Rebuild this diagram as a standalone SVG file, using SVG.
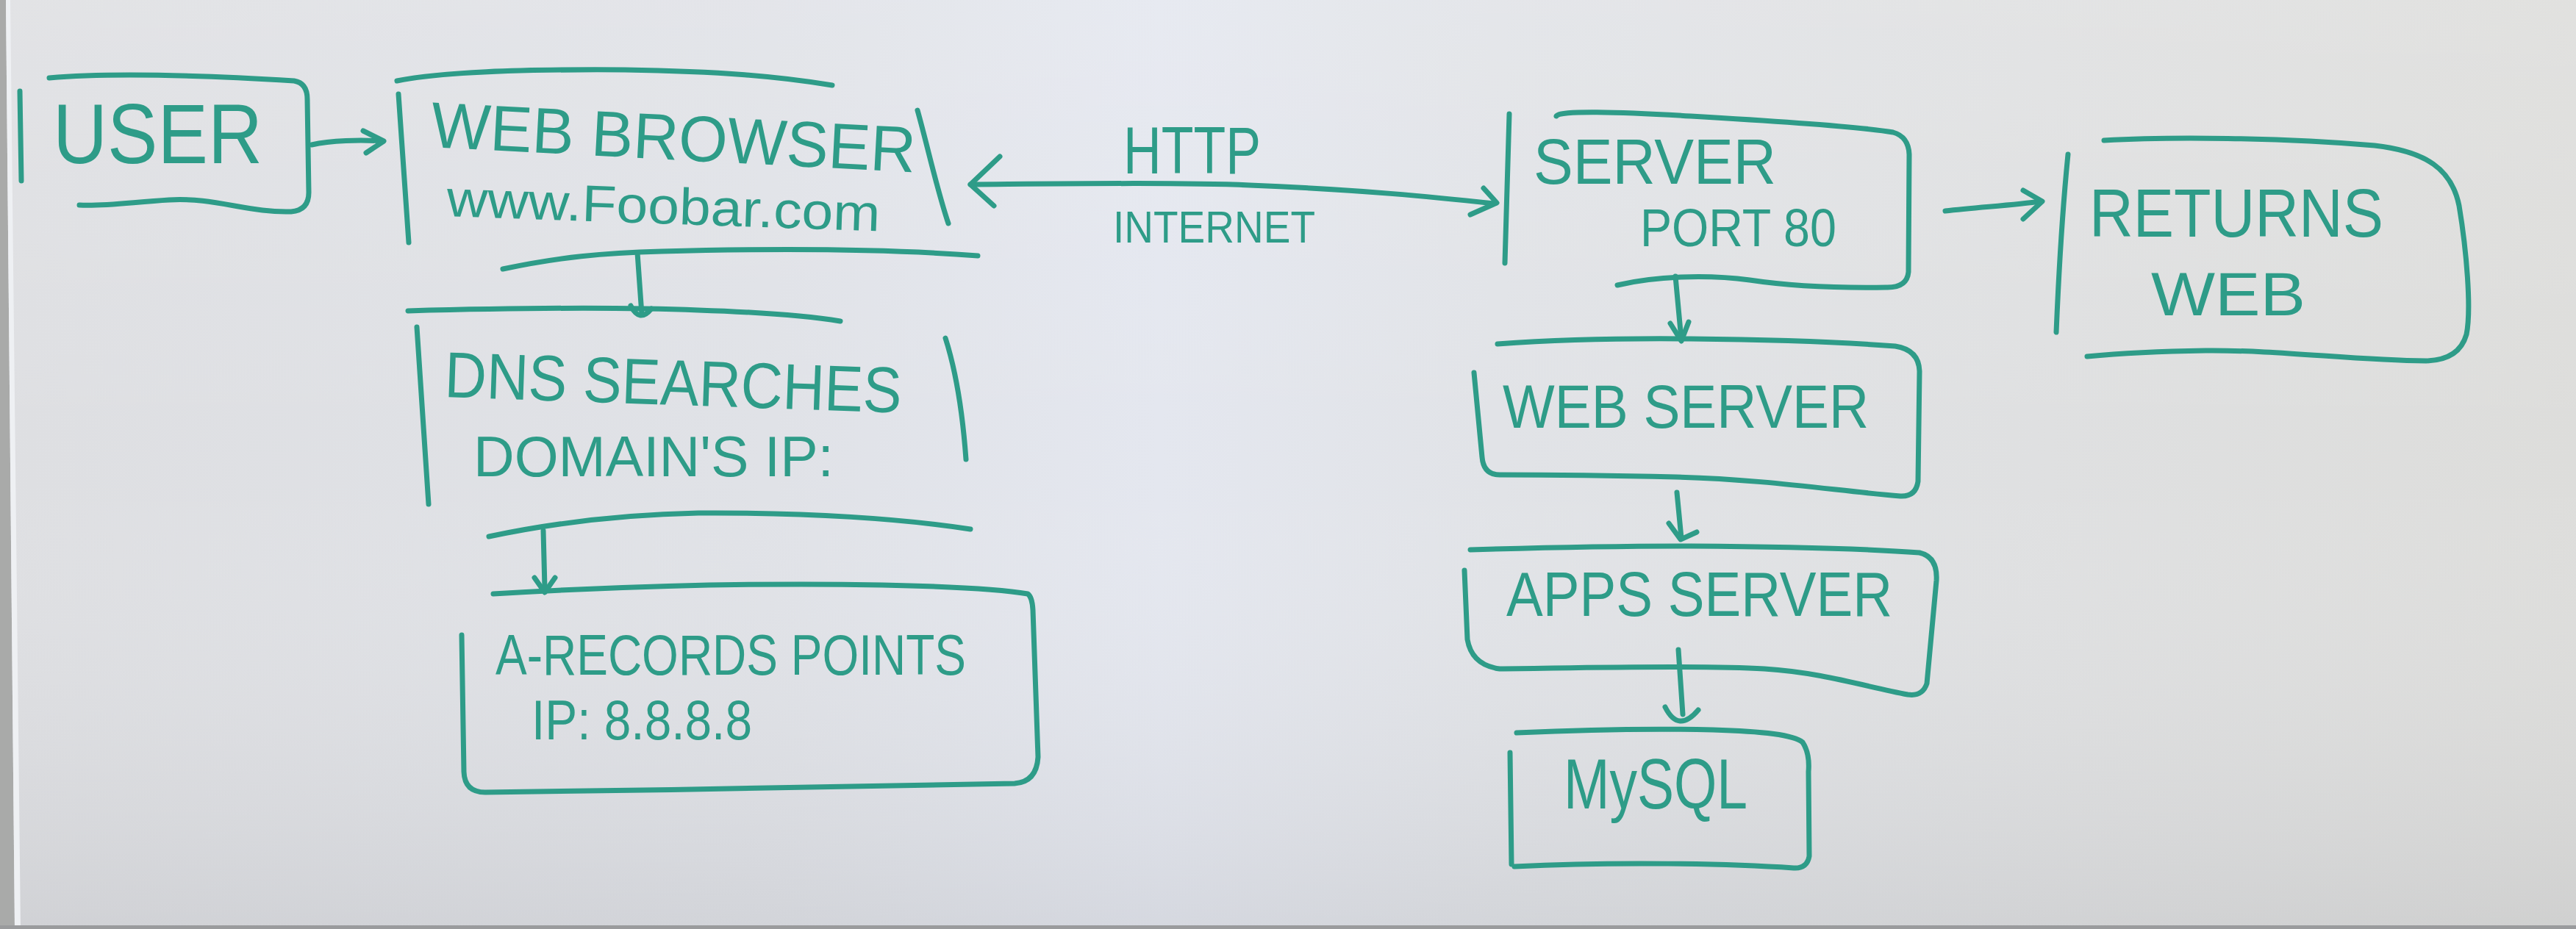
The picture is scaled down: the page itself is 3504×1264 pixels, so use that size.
<svg xmlns="http://www.w3.org/2000/svg" width="3504" height="1264" viewBox="0 0 3504 1264">
<defs>
<linearGradient id="bgH" x1="0" y1="0" x2="1" y2="0">
<stop offset="0" stop-color="#dedfe2"/>
<stop offset="0.3" stop-color="#e0e2e7"/>
<stop offset="0.45" stop-color="#e4e7ef"/>
<stop offset="0.58" stop-color="#e1e3e7"/>
<stop offset="1" stop-color="#dddddb"/>
</linearGradient>
<linearGradient id="bgV" x1="0" y1="0" x2="0" y2="1">
<stop offset="0" stop-color="#ffffff" stop-opacity="0.12"/>
<stop offset="0.5" stop-color="#ffffff" stop-opacity="0"/>
<stop offset="1" stop-color="#9a9ca2" stop-opacity="0.2"/>
</linearGradient>
<style>
.ink{fill:none;stroke:#2e9c88;stroke-width:7;stroke-linecap:round;stroke-linejoin:round}
.t{fill:#2e9c88;font-family:"Liberation Sans","DejaVu Sans",sans-serif}
</style>
</defs>
<rect x="0" y="0" width="3504" height="1264" fill="url(#bgH)"/>
<rect x="0" y="0" width="3504" height="1264" fill="url(#bgV)"/>
<polygon points="0,0 8,0 20,1264 0,1264" fill="#a9aaa9"/>
<polygon points="8,0 14,0 28,1264 20,1264" fill="#eef0f3"/>
<rect x="0" y="1259" width="3504" height="5" fill="#9a9b9d"/>

<g id="user">
<path class="ink" d="M67,106 C160,98 300,104 400,110 Q418,113 418,135 L420,262 Q420,286 396,288 C340,290 290,268 230,272 C180,275 140,281 108,279"/>
<path class="ink" d="M27,124 L29,246"/>
<text class="t" x="72" y="222" font-size="115" textLength="285" lengthAdjust="spacingAndGlyphs">USER</text>
</g>

<g id="web-browser">
<path class="ink" d="M540,110 C600,98 700,94 850,95 C980,97 1060,104 1132,116"/>
<path class="ink" d="M542,128 L556,330"/>
<path class="ink" d="M1248,150 C1262,200 1275,260 1290,304"/>
<path class="ink" d="M684,366 C760,350 820,344 900,342 C1050,338 1200,338 1330,348"/>
<text class="t" x="585" y="200" font-size="88" textLength="660" lengthAdjust="spacingAndGlyphs" transform="rotate(3 585 200)">WEB BROWSER</text>
<text class="t" x="607" y="294" font-size="70" textLength="590" lengthAdjust="spacingAndGlyphs" transform="rotate(2 607 294)">www.Foobar.com</text>
</g>

<g id="dns">
<path class="ink" d="M555,423 C700,419 850,418 950,422 C1040,425 1100,430 1143,437"/>
<path class="ink" d="M567,445 L583,686"/>
<path class="ink" d="M1286,460 C1302,510 1310,570 1314,625"/>
<path class="ink" d="M665,730 C750,712 850,700 950,698 C1100,697 1230,706 1320,720"/>
<text class="t" x="604" y="540" font-size="88" textLength="622" lengthAdjust="spacingAndGlyphs" transform="rotate(2 604 540)">DNS SEARCHES</text>
<text class="t" x="644" y="648" font-size="78" textLength="490" lengthAdjust="spacingAndGlyphs">DOMAIN'S IP:</text>
</g>

<g id="a-records">
<path class="ink" d="M671,808 C800,800 1000,792 1200,796 C1300,798 1370,803 1398,808 Q1404,812 1405,830 L1412,1030 Q1410,1064 1380,1066 C1200,1070 900,1075 660,1078 Q632,1078 631,1050 L628,864"/>
<text class="t" x="674" y="918" font-size="78" textLength="640" lengthAdjust="spacingAndGlyphs">A-RECORDS POINTS</text>
<text class="t" x="723" y="1006" font-size="76" textLength="300" lengthAdjust="spacingAndGlyphs">IP: 8.8.8.8</text>
</g>

<g id="server">
<path class="ink" d="M2053,155 L2047,358"/>
<path class="ink" d="M2117,158 C2120,150 2200,152 2300,158 C2420,165 2530,172 2575,180 Q2596,186 2597,210 L2596,370 Q2594,392 2565,391 C2500,392 2440,390 2380,381 C2320,373 2250,376 2200,388"/>
<text class="t" x="2086" y="250" font-size="88" textLength="330" lengthAdjust="spacingAndGlyphs">SERVER</text>
<text class="t" x="2231" y="335" font-size="72" textLength="267" lengthAdjust="spacingAndGlyphs">PORT 80</text>
</g>

<g id="returns-web">
<path class="ink" d="M2813,210 C2805,290 2800,380 2797,452"/>
<path class="ink" d="M2862,191 C2950,186 3100,187 3230,198 C3300,206 3335,230 3345,280 C3355,340 3362,420 3355,455 Q3345,490 3300,491 C3200,490 3100,476 3000,477 C2930,478 2880,481 2839,485"/>
<text class="t" x="2842" y="322" font-size="92" textLength="400" lengthAdjust="spacingAndGlyphs">RETURNS</text>
<text class="t" x="2926" y="429" font-size="84" textLength="210" lengthAdjust="spacingAndGlyphs">WEB</text>
</g>

<g id="web-server">
<path class="ink" d="M2037,468 C2120,462 2200,460 2300,461 C2400,462 2500,465 2578,471 Q2610,476 2611,505 L2609,655 Q2606,676 2585,675 C2500,668 2400,652 2280,649 C2150,646 2080,646 2040,646 Q2018,646 2016,622 L2005,507"/>
<text class="t" x="2044" y="582" font-size="84" textLength="498" lengthAdjust="spacingAndGlyphs">WEB SERVER</text>
</g>

<g id="apps-server">
<path class="ink" d="M2000,748 C2100,745 2200,743 2300,743 C2450,744 2560,748 2611,752 Q2636,758 2634,790 L2621,930 Q2615,948 2595,945 C2540,935 2480,915 2400,910 C2300,904 2100,910 2040,910 Q2002,905 1996,870 L1992,776"/>
<text class="t" x="2049" y="838" font-size="86" textLength="525" lengthAdjust="spacingAndGlyphs">APPS SERVER</text>
</g>

<g id="mysql">
<path class="ink" d="M2063,997 C2150,993 2250,991 2330,993 C2400,995 2440,1000 2452,1010 Q2462,1025 2460,1050 L2461,1165 Q2458,1182 2440,1181 C2350,1175 2200,1172 2060,1179"/>
<path class="ink" d="M2054,1024 L2056,1176"/>
<text class="t" x="2127" y="1100" font-size="96" textLength="250" lengthAdjust="spacingAndGlyphs">MySQL</text>
</g>

<g id="connectors">
<path class="ink" d="M424,197 C450,191 490,190 520,192"/>
<path class="ink" d="M494,178 L522,192 L498,208"/>
<path class="ink" d="M867,344 L873,428"/>
<path class="ink" d="M858,416 Q870,440 886,420"/>
<path class="ink" d="M739,722 L741,800"/>
<path class="ink" d="M727,786 L741,806 L755,786"/>
<path class="ink" d="M1320,251 C1450,250 1600,248 1700,252 C1850,258 1950,268 2032,277"/>
<path class="ink" d="M1360,213 L1320,251 L1352,280"/>
<path class="ink" d="M2018,256 L2036,276 L2000,292"/>
<text class="t" x="1528" y="236" font-size="90" textLength="187" lengthAdjust="spacingAndGlyphs">HTTP</text>
<text class="t" x="1514" y="330" font-size="62" textLength="275" lengthAdjust="spacingAndGlyphs">INTERNET</text>
<path class="ink" d="M2646,287 C2690,282 2740,279 2776,274"/>
<path class="ink" d="M2752,259 L2778,274 L2752,298"/>
<path class="ink" d="M2279,376 L2287,462"/>
<path class="ink" d="M2272,440 L2287,464 L2297,438"/>
<path class="ink" d="M2281,670 L2287,732"/>
<path class="ink" d="M2270,712 L2286,734 L2308,724"/>
<path class="ink" d="M2283,884 L2289,972"/>
<path class="ink" d="M2265,962 Q2283,998 2310,966"/>
</g>
</svg>
